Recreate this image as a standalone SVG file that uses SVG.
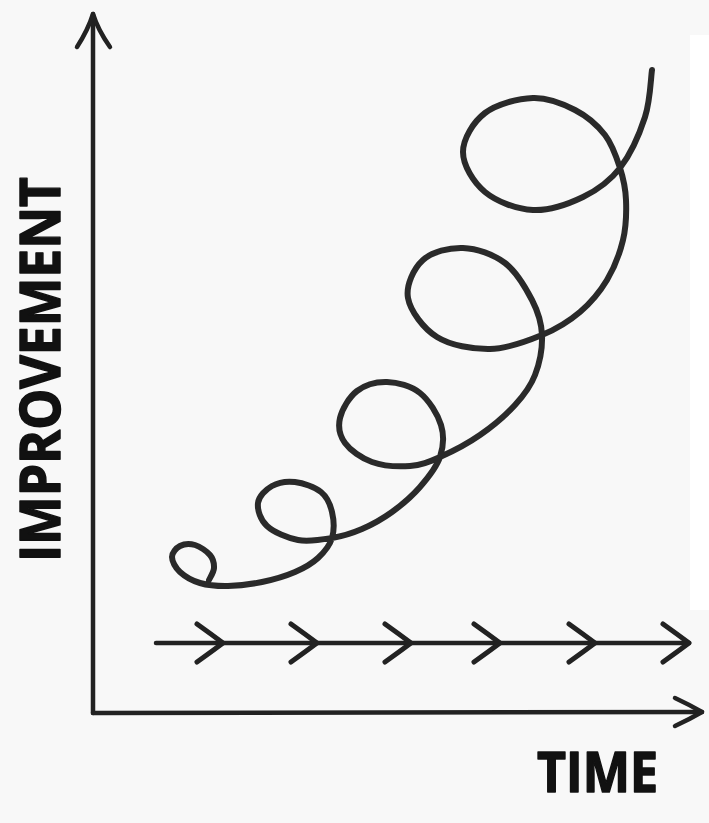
<svg xmlns="http://www.w3.org/2000/svg" xmlns:xlink="http://www.w3.org/1999/xlink" width="709" height="823" viewBox="0 0 709 823">
  <style>
    .ink { fill: none; stroke: #222; stroke-linecap: round; stroke-linejoin: round; }
    .axis { stroke-width: 4.5; }
    .spiral { stroke-width: 6; stroke: #2a2a2a; }
    .arrowline { stroke-width: 4.5; }
    .chev { stroke-width: 5; }
    .label { font-family: "Open Sans", "DejaVu Sans", sans-serif; font-weight: 700; font-size: 55px; fill: #111; stroke: #111; stroke-width: 1.5; stroke-linejoin: round; }
  </style>
  <defs>
    <path id="chev" class="ink chev" d="M-26,-19 Q-12,-9 0,0 Q-12,9 -26,19"/>
  </defs>
  <rect x="0" y="0" width="709" height="823" fill="#f8f8f8"/>
  <rect x="690" y="35" width="19" height="575" fill="#ffffff"/>

  <g id="y-axis">
    <path class="ink axis" d="M93,713 L93,14"/>
    <path class="ink axis" d="M77,47 Q88,30 93,14 Q98,30 110,47"/>
  </g>

  <g id="x-axis">
    <path class="ink axis" d="M93,713 L702,712"/>
    <path class="ink axis" d="M675,698 Q690,705 702,712 Q690,719 675,726"/>
  </g>

  <g id="spiral">
    <path class="ink spiral" d="M652,70 C650.8,77.8 650.3,100.7 645,117 C639.7,133.3 630.3,154.7 620,168 C609.7,181.3 597.5,190 583,197 C568.5,204 549.3,210.8 533,210 C516.7,209.2 496.7,201.7 485,192 C473.3,182.3 463,165.2 463,152 C463,138.8 473.3,122 485,113 C496.7,104 518,98.5 533,98 C548,97.5 563,103.8 575,110 C587,116.2 597.5,125.3 605,135 C612.5,144.7 616.5,157.2 620,168 C623.5,178.8 625.5,188 626,200 C626.5,212 626.2,226.7 623,240 C619.8,253.3 614.2,268 607,280 C599.8,292 590.8,302.8 580,312 C569.2,321.2 557,328.8 542,335 C527,341.2 507.5,348.7 490,349 C472.5,349.3 450.7,345.5 437,337 C423.3,328.5 410.3,310.8 408,298 C405.7,285.2 413.8,268.3 423,260 C432.2,251.7 449.3,247.5 463,248 C476.7,248.5 493.5,254.3 505,263 C516.5,271.7 525.8,288 532,300 C538.2,312 541.5,322.5 542,335 C542.5,347.5 539.5,363.3 535,375 C530.5,386.7 524.2,395 515,405 C505.8,415 492.5,426.3 480,435 C467.5,443.7 451.7,451.8 440,457 C428.3,462.2 421.3,465.2 410,466 C398.7,466.8 382.8,465.8 372,462 C361.2,458.2 350.3,450.3 345,443 C339.7,435.7 338,426.7 340,418 C342,409.3 349.2,397 357,391 C364.8,385 376.5,381.7 387,382 C397.5,382.3 411,385.8 420,393 C429,400.2 437.7,414.3 441,425 C444.3,435.7 443.5,446.7 440,457 C436.5,467.3 428,477.8 420,487 C412,496.2 401.7,505 392,512 C382.3,519 372,524.7 362,529 C352,533.3 342.7,536.2 332,538 C321.3,539.8 308.8,542 298,540 C287.2,538 273.7,532.2 267,526 C260.3,519.8 257.2,509.7 258,503 C258.8,496.3 265.8,489.5 272,486 C278.2,482.5 286.8,481 295,482 C303.2,483 314.8,487 321,492 C327.2,497 330.2,504.3 332,512 C333.8,519.7 334.3,530.3 332,538 C329.7,545.7 324.2,552.3 318,558 C311.8,563.7 304.3,568 295,572 C285.7,576 273.2,579.7 262,582 C250.8,584.3 238.3,585.8 228,586 C217.7,586.2 208,585.3 200,583 C192,580.7 184.7,576.3 180,572 C175.3,567.7 172,561.3 172,557 C172,552.7 176.2,548 180,546 C183.8,544 190,543.5 195,545 C200,546.5 206.8,551.2 210,555 C213.2,558.8 214.2,563.8 214,568 C213.8,572.2 209.8,578 209,580"/>
  </g>

  <g id="progress-arrow">
    <path class="ink arrowline" d="M156,643 L689,643"/>
    <use xlink:href="#chev" href="#chev" x="223" y="643"/>
    <use xlink:href="#chev" href="#chev" x="317" y="643"/>
    <use xlink:href="#chev" href="#chev" x="411" y="643"/>
    <use xlink:href="#chev" href="#chev" x="500" y="643"/>
    <use xlink:href="#chev" href="#chev" x="595" y="643"/>
    <use xlink:href="#chev" href="#chev" x="689" y="643"/>
  </g>

  <g id="label-improvement">
    <text class="label" transform="translate(60,562) rotate(-90)" x="0" y="0" textLength="385" lengthAdjust="spacingAndGlyphs">IMPROVEMENT</text>
  </g>

  <g id="label-time">
    <text class="label" x="537" y="792" textLength="121" lengthAdjust="spacingAndGlyphs">TIME</text>
  </g>
</svg>
